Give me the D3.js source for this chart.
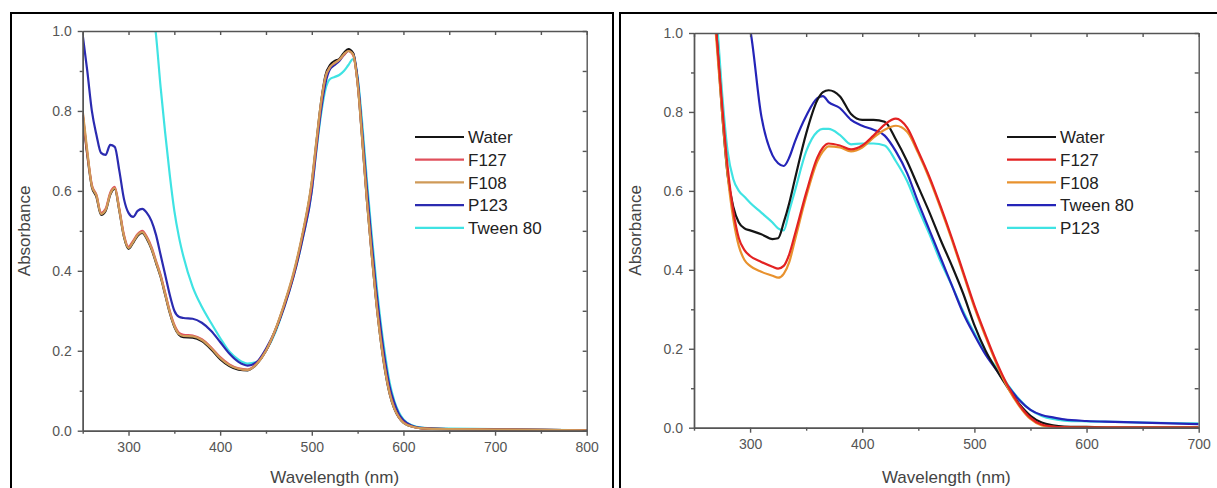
<!DOCTYPE html>
<html>
<head>
<meta charset="utf-8">
<title>Absorbance spectra</title>
<script src="https://cdn.jsdelivr.net/npm/d3@7/dist/d3.min.js"></script>
<style>
  body { margin: 0; background: #fff; }
  text { font-family: "Liberation Sans", Arial, sans-serif; }
</style>
</head>
<body>
<svg id="mainsvg" width="1217" height="488"></svg>
<script>
// ---- left panel data (250-800 nm) ----
const wlLeft = [250,255,260,265,270,275,280,285,290,295,300,305,310,315,320,325,330,335,340,345,350,355,360,
  370,380,390,400,410,420,430,440,450,460,470,480,490,500,
  505,510,515,520,525,530,535,540,545,550,555,560,565,570,575,580,585,590,595,600,
  610,620,650,700,750,800];

const waterLeft = [0.79,0.69,0.61,0.585,0.54,0.55,0.59,0.605,0.55,0.485,0.455,0.47,0.488,0.495,0.48,0.455,0.42,0.385,0.34,0.295,0.26,0.24,0.234,
  0.233,0.224,0.204,0.179,0.162,0.153,0.151,0.167,0.2,0.25,0.315,0.39,0.49,0.62,
  0.72,0.82,0.89,0.915,0.925,0.93,0.945,0.955,0.945,0.87,0.73,0.58,0.45,0.33,0.23,0.15,0.092,0.055,0.033,0.02,
  0.01,0.006,0.004,0.003,0.002,0.001];
const f127Left = [0.795,0.695,0.615,0.59,0.545,0.555,0.595,0.61,0.555,0.49,0.46,0.475,0.492,0.5,0.485,0.46,0.425,0.39,0.345,0.3,0.265,0.245,0.24,
  0.238,0.229,0.209,0.184,0.166,0.156,0.153,0.168,0.2,0.25,0.315,0.39,0.49,0.615,
  0.715,0.815,0.885,0.91,0.92,0.928,0.94,0.95,0.94,0.87,0.735,0.585,0.455,0.335,0.235,0.155,0.095,0.057,0.034,0.021,
  0.01,0.006,0.004,0.003,0.002,0.001];
const f108Left = [0.8,0.7,0.612,0.588,0.542,0.552,0.592,0.607,0.552,0.487,0.457,0.472,0.49,0.497,0.482,0.457,0.422,0.387,0.342,0.297,0.262,0.242,0.237,
  0.236,0.227,0.207,0.182,0.164,0.155,0.152,0.167,0.2,0.252,0.318,0.395,0.495,0.625,
  0.725,0.82,0.885,0.91,0.92,0.928,0.942,0.95,0.942,0.868,0.73,0.58,0.45,0.33,0.23,0.152,0.093,0.056,0.034,0.02,
  0.01,0.006,0.004,0.003,0.002,0.001];
const p123Left = [0.99,0.9,0.8,0.74,0.695,0.69,0.715,0.71,0.65,0.58,0.545,0.535,0.55,0.555,0.545,0.525,0.49,0.44,0.39,0.34,0.3,0.285,0.282,
  0.28,0.27,0.25,0.222,0.193,0.172,0.163,0.172,0.205,0.25,0.31,0.385,0.48,0.6,
  0.705,0.8,0.87,0.905,0.915,0.925,0.94,0.95,0.945,0.88,0.75,0.61,0.48,0.36,0.26,0.175,0.11,0.07,0.042,0.026,
  0.012,0.007,0.004,0.003,0.002,0.001];
const tweenLeft = [null,null,null,null,null,null,null,null,null,null,null,null,null,null,1.2,1.08,0.99,0.86,0.745,0.64,0.55,0.485,0.435,
  0.36,0.31,0.27,0.232,0.198,0.178,0.168,0.172,0.2,0.245,0.31,0.385,0.48,0.6,
  0.7,0.79,0.855,0.88,0.885,0.89,0.9,0.915,0.93,0.885,0.77,0.63,0.5,0.38,0.275,0.19,0.12,0.075,0.046,0.028,
  0.013,0.008,0.005,0.004,0.002,0.001];

// ---- right panel data (250-700 nm) ----
const wlRight = [265,270,275,280,285,290,295,300,310,320,325,330,335,340,350,360,365,370,380,390,400,410,420,430,440,
  450,460,470,480,490,500,510,520,530,540,550,560,570,580,600,625,650,700];

const waterRight = [1.25,1.0,0.8,0.64,0.56,0.52,0.505,0.5,0.49,0.478,0.48,0.52,0.57,0.63,0.745,0.83,0.85,0.855,0.84,0.795,0.78,0.78,0.775,0.73,0.675,
  0.61,0.545,0.475,0.41,0.34,0.26,0.195,0.145,0.1,0.06,0.03,0.013,0.006,0.003,0.002,0.001,0.001,0.001];
const f127Right = [1.2,1.0,0.82,0.66,0.55,0.48,0.45,0.435,0.42,0.408,0.403,0.41,0.44,0.49,0.595,0.685,0.71,0.72,0.715,0.705,0.715,0.74,0.768,0.783,0.76,
  0.7,0.635,0.56,0.48,0.395,0.31,0.235,0.165,0.105,0.058,0.025,0.008,0.003,0.001,0,0,0,0];
const f108Right = [1.15,0.98,0.8,0.64,0.53,0.46,0.425,0.41,0.395,0.385,0.38,0.39,0.42,0.475,0.585,0.675,0.7,0.713,0.71,0.7,0.71,0.735,0.755,0.765,0.75,
  0.695,0.63,0.555,0.475,0.39,0.305,0.23,0.16,0.1,0.055,0.022,0.006,0.002,0.001,0,0,0,0];
const tweenRight = [1.7,1.55,1.42,1.3,1.2,1.12,1.06,1.01,0.79,0.69,0.67,0.663,0.685,0.725,0.79,0.835,0.84,0.825,0.81,0.78,0.765,0.755,0.74,0.7,0.645,
  0.57,0.5,0.43,0.36,0.29,0.235,0.185,0.145,0.105,0.07,0.045,0.032,0.026,0.021,0.017,0.015,0.013,0.009];
const p123Right = [1.2,1.05,0.85,0.7,0.63,0.6,0.585,0.57,0.545,0.52,0.505,0.5,0.55,0.6,0.7,0.75,0.757,0.757,0.742,0.718,0.72,0.72,0.715,0.675,0.625,
  0.555,0.49,0.42,0.36,0.295,0.24,0.19,0.15,0.108,0.072,0.045,0.03,0.022,0.018,0.016,0.015,0.013,0.011];

// tick values
const yMajor = [0, 0.2, 0.4, 0.6, 0.8, 1.0];
const yMinor = [0.1, 0.3, 0.5, 0.7, 0.9];
const xMajorLeft = [300, 400, 500, 600, 700, 800];
const xMinorLeft = [250, 350, 450, 550, 650, 750];
const xMajorRight = [300, 400, 500, 600, 700];
const xMinorRight = [250, 350, 450, 550, 650];

const svg = d3.select('#mainsvg');

const panels = [
  {
    id: 'L', frame: [11, 13, 613], left: 82.7, right: 586.7, top: 31, bottom: 430.7,
    xDomain: [250, 800], xMajor: xMajorLeft, xMinor: xMinorLeft, wl: wlLeft,
    legendX: 415,
    series: [
      {name: 'Water', vals: waterLeft, color: '#151515'},
      {name: 'F127', vals: f127Left, color: '#e0505c'},
      {name: 'F108', vals: f108Left, color: '#cf9a58'},
      {name: 'P123', vals: p123Left, color: '#2b2bb0'},
      {name: 'Tween 80', vals: tweenLeft, color: '#3fe3e3'}
    ],
    drawOrder: [4, 3, 0, 1, 2]
  },
  {
    id: 'R', frame: [620, 13, 1240], left: 694, right: 1198.7, top: 33, bottom: 427.7,
    xDomain: [250, 700], xMajor: xMajorRight, xMinor: xMinorRight, wl: wlRight,
    legendX: 1007,
    series: [
      {name: 'Water', vals: waterRight, color: '#151515'},
      {name: 'F127', vals: f127Right, color: '#e32222'},
      {name: 'F108', vals: f108Right, color: '#e8922e'},
      {name: 'Tween 80', vals: tweenRight, color: '#2424b8'},
      {name: 'P123', vals: p123Right, color: '#3fe3e3'}
    ],
    drawOrder: [4, 3, 0, 2, 1]
  }
];

const axisColor = '#555';

function styleAxis(sel) {
  sel.selectAll('path, line').attr('stroke', axisColor).attr('stroke-width', 1.4);
  sel.selectAll('text').attr('fill', '#555').attr('font-size', 14);
}

panels.forEach(p => {
  const g = svg.append('g').attr('id', 'panel' + p.id);

  // panel frame (open at the bottom, cut by the picture)
  g.append('path')
    .attr('d', `M${p.frame[0]},500 V${p.frame[1]} H${p.frame[2]} V500`)
    .attr('fill', 'none').attr('stroke', '#000').attr('stroke-width', 2);

  const x = d3.scaleLinear().domain(p.xDomain).range([p.left, p.right]);
  const y = d3.scaleLinear().domain([0, 1]).range([p.bottom, p.top]);

  g.append('clipPath').attr('id', 'clip' + p.id)
    .append('rect')
    .attr('x', p.left).attr('y', p.top)
    .attr('width', p.right - p.left).attr('height', p.bottom - p.top);

  // curves
  const line = d3.line()
    .defined(d => d[1] !== null)
    .x(d => x(d[0]))
    .y(d => y(d[1]))
    .curve(d3.curveMonotoneX);

  const lines = g.append('g').attr('clip-path', `url(#clip${p.id})`);
  p.drawOrder.forEach(i => {
    const s = p.series[i];
    lines.append('path')
      .datum(p.wl.map((w, k) => [w, s.vals[k]]))
      .attr('d', line)
      .attr('fill', 'none')
      .attr('stroke', s.color)
      .attr('stroke-width', 2.2)
      .attr('stroke-linejoin', 'round');
  });

  // axes: bottom and left with outward ticks, top and right with inward ticks
  g.append('g').attr('transform', `translate(0,${p.bottom})`)
    .call(d3.axisBottom(x).tickValues(p.xMajor).tickSize(5).tickSizeOuter(0).tickPadding(6).tickFormat(d3.format('d')))
    .call(styleAxis);
  g.append('g').attr('transform', `translate(0,${p.bottom})`)
    .call(d3.axisBottom(x).tickValues(p.xMinor).tickSize(3).tickSizeOuter(0).tickFormat(''))
    .call(styleAxis);
  g.append('g').attr('transform', `translate(${p.left},0)`)
    .call(d3.axisLeft(y).tickValues(yMajor).tickSize(5).tickSizeOuter(0).tickPadding(6).tickFormat(d3.format('.1f')))
    .call(styleAxis);
  g.append('g').attr('transform', `translate(${p.left},0)`)
    .call(d3.axisLeft(y).tickValues(yMinor).tickSize(3).tickSizeOuter(0).tickFormat(''))
    .call(styleAxis);
  g.append('g').attr('transform', `translate(0,${p.top})`)
    .call(d3.axisTop(x).tickValues(p.xMajor.concat(p.xMinor)).tickSize(-4).tickSizeOuter(0).tickFormat(''))
    .call(styleAxis);
  g.append('g').attr('transform', `translate(${p.right},0)`)
    .call(d3.axisRight(y).tickValues(yMajor.concat(yMinor)).tickSize(-4).tickSizeOuter(0).tickFormat(''))
    .call(styleAxis);

  // axis titles
  g.append('text')
    .attr('x', (p.left + p.right) / 2).attr('y', 483)
    .attr('text-anchor', 'middle').attr('font-size', 17).attr('fill', '#444')
    .text('Wavelength (nm)');
  g.append('text')
    .attr('transform', `translate(${p.left - 53},${(p.top + p.bottom) / 2}) rotate(-90)`)
    .attr('text-anchor', 'middle').attr('font-size', 17).attr('fill', '#444')
    .text('Absorbance');

  // legend
  const legend = g.selectAll('.legend' + p.id)
    .data(p.series)
    .enter().append('g')
    .attr('class', 'legend' + p.id)
    .attr('transform', (d, i) => `translate(${p.legendX},${137 + i * 22.7})`);
  legend.append('line')
    .attr('x1', 0).attr('x2', 49).attr('y1', 0).attr('y2', 0)
    .attr('stroke', d => d.color).attr('stroke-width', 2.2);
  legend.append('text')
    .attr('x', 53).attr('y', 0).attr('dy', '0.36em')
    .attr('font-size', 17).attr('fill', '#222')
    .text(d => d.name);
});
</script>
</body>
</html>
